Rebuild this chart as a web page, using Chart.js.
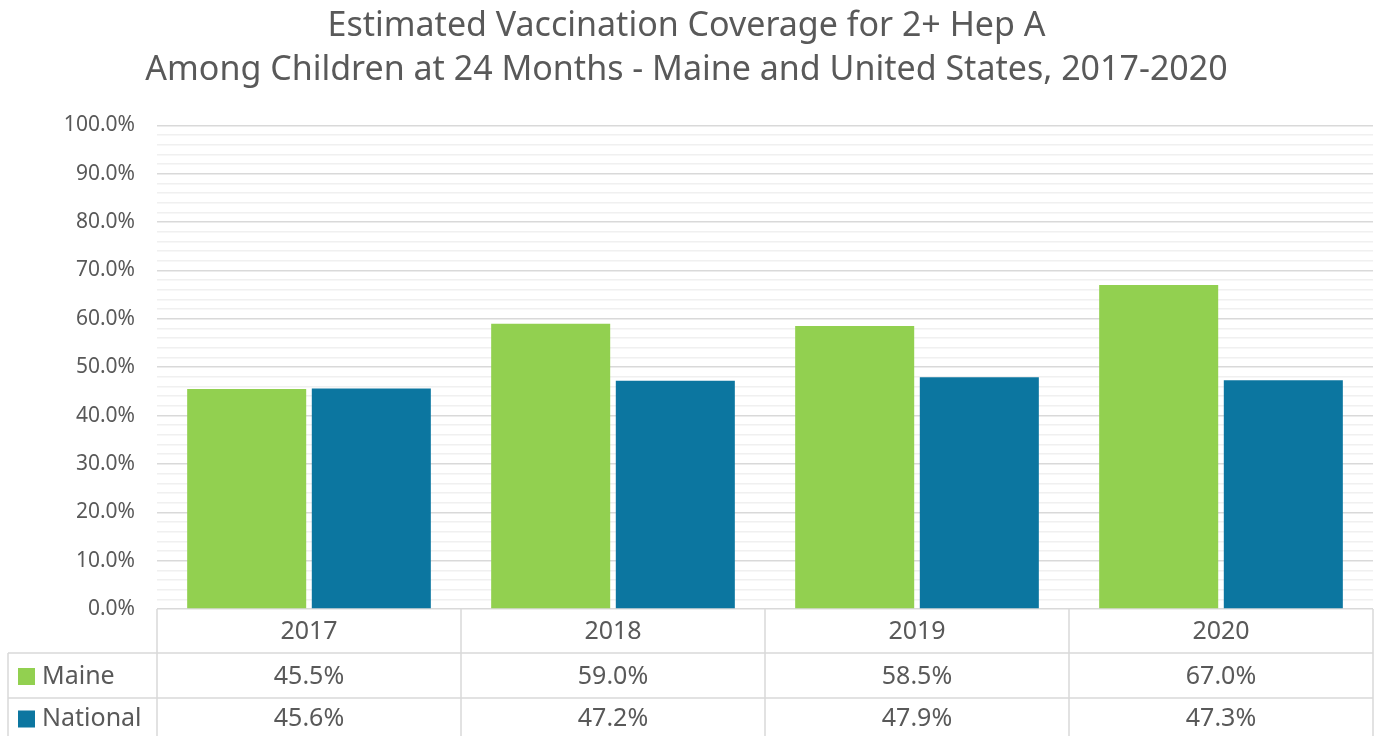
<!DOCTYPE html>
<html>
<head>
<meta charset="utf-8">
<script src="https://cdn.jsdelivr.net/npm/chart.js@4"></script>
<style>
  html, body { margin: 0; padding: 0; background: #fff; }
  #wrap { width: 1377px; height: 736px; }
</style>
</head>
<body>
<div id="wrap"><canvas id="chart"></canvas></div>
<script>
const years = ["2017", "2018", "2019", "2020"];
const maine = [45.5, 59.0, 58.5, 67.0];
const national = [45.6, 47.2, 47.9, 47.3];
const titleLines = [
  "Estimated Vaccination Coverage for 2+ Hep A",
  "Among Children at 24 Months - Maine and United States, 2017-2020"
];

const FONT = "'Noto Sans', sans-serif";
const TEXT = "#595959";
const LINE = "#d9d9d9";

// draws the data table under the plot, using the x scale for column spots
const dataTable = {
  id: "dataTable",
  afterDraw(chart) {
    const ctx = chart.ctx;
    const area = chart.chartArea;
    const xs = chart.scales.x;
    const colW = area.width / years.length;
    const top = area.bottom;
    const rows = [top, top + 44, top + 89, top + 135];
    const leftEdge = 8;

    ctx.save();
    ctx.strokeStyle = LINE;
    ctx.lineWidth = 1.5;
    ctx.beginPath();
    // column lines
    for (let i = 0; i <= years.length; i++) {
      const x = area.left + i * colW;
      ctx.moveTo(x, top);
      ctx.lineTo(x, rows[3]);
    }
    ctx.moveTo(leftEdge, rows[1]);
    ctx.lineTo(leftEdge, rows[3]);
    ctx.moveTo(leftEdge, rows[1]);
    ctx.lineTo(area.right, rows[1]);
    ctx.moveTo(leftEdge, rows[2]);
    ctx.lineTo(area.right, rows[2]);
    ctx.stroke();

    ctx.fillStyle = TEXT;
    ctx.font = "25px " + FONT;
    ctx.textAlign = "center";
    ctx.textBaseline = "middle";
    years.forEach((y, i) => {
      const cx = xs.getPixelForValue(i);
      ctx.fillText(y, cx, (rows[0] + rows[1]) / 2 + 1);
      ctx.fillText(maine[i].toFixed(1) + "%", cx, (rows[1] + rows[2]) / 2 + 1);
      ctx.fillText(national[i].toFixed(1) + "%", cx, (rows[2] + rows[3]) / 2 - 2);
    });

    // series keys
    const keys = [["Maine", "#92d050", rows[1], rows[2]], ["National", "#0c76a0", rows[2], rows[3] - 6]];
    ctx.textAlign = "left";
    keys.forEach(([name, col, a, b]) => {
      const cy = (a + b) / 2 + 1;
      ctx.fillStyle = col;
      ctx.fillRect(18, cy - 8.5, 17, 17);
      ctx.fillStyle = TEXT;
      ctx.fillText(name, 42, cy);
    });
    ctx.restore();
  }
};

new Chart(document.getElementById("chart"), {
  type: "bar",
  data: {
    labels: years,
    datasets: [
      { label: "Maine", data: maine, backgroundColor: "#92d050", categoryPercentage: 0.82, barPercentage: 0.955 },
      { label: "National", data: national, backgroundColor: "#0c76a0", categoryPercentage: 0.82, barPercentage: 0.955 }
    ]
  },
  options: {
    responsive: true,
    maintainAspectRatio: false,
    animation: false,
    layout: { padding: { left: 0, right: 4, top: 0, bottom: 119 } },
    plugins: {
      legend: { display: false },
      tooltip: { enabled: false },
      title: {
        display: true,
        text: titleLines,
        color: TEXT,
        font: { family: FONT, size: 34, weight: "normal", lineHeight: 1.3 },
        padding: { top: 4, bottom: 33 }
      }
    },
    scales: {
      x: {
        grid: { display: false },
        border: { display: false },
        ticks: { display: false }
      },
      y: {
        min: 0,
        max: 100,
        border: { display: false },
        afterFit: s => { s.width = 157; },
        grid: {
          drawTicks: false,
          lineWidth: 1.5,
          color: c => (Math.round(c.tick.value) % 10 === 0 ? LINE : "#f0f0f0")
        },
        ticks: {
          stepSize: 2,
          autoSkip: false,
          padding: 22,
          color: TEXT,
          font: { family: FONT, size: 21 },
          callback: v => (Math.round(v) % 10 === 0 ? v.toFixed(1) + "%" : "")
        }
      }
    }
  },
  plugins: [dataTable]
});
</script>
</body>
</html>
